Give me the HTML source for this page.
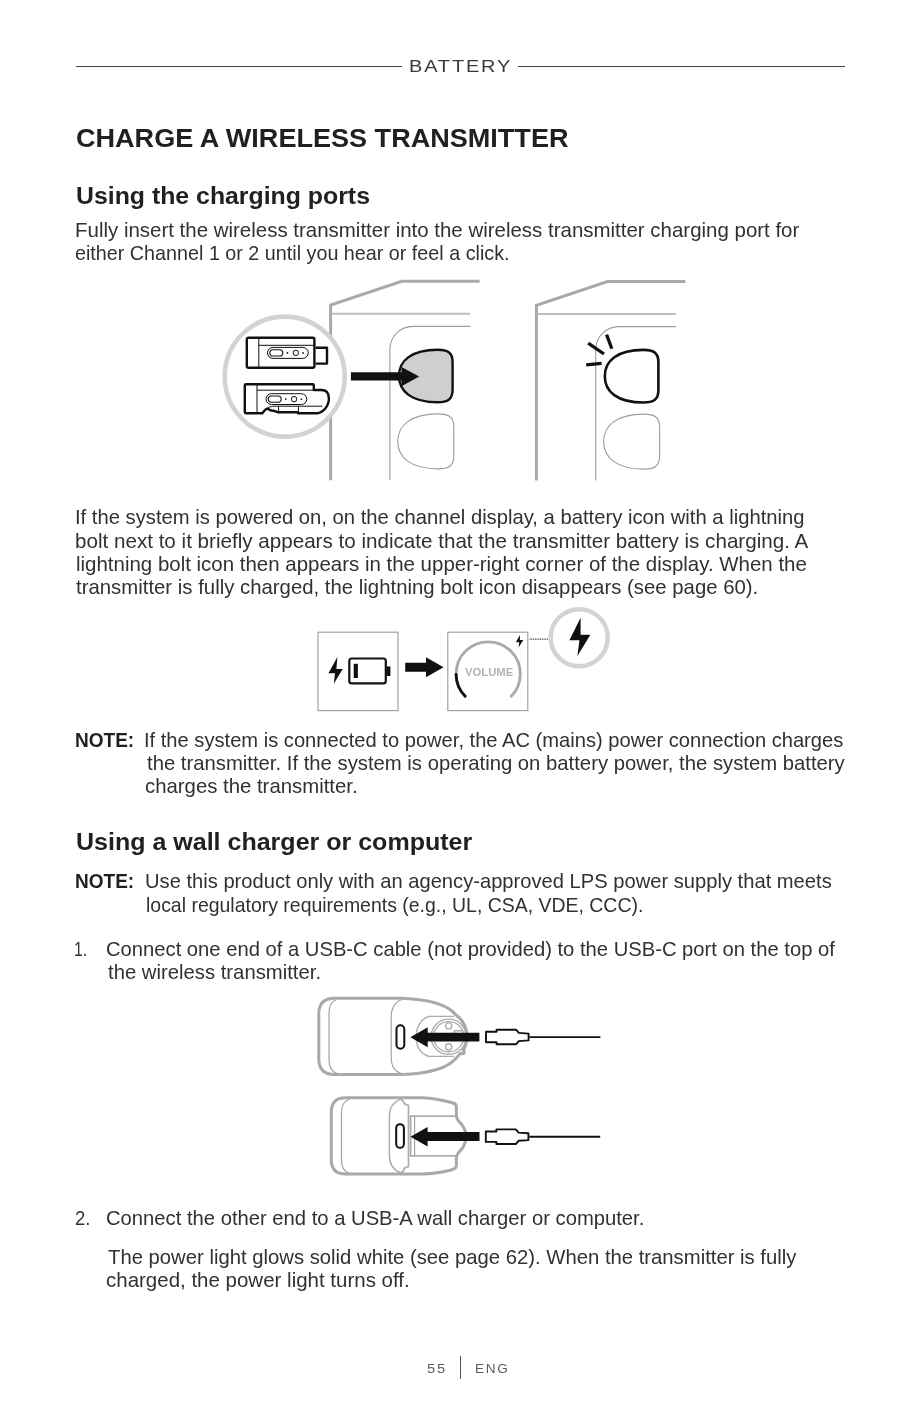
<!DOCTYPE html>
<html lang="en">
<head>
<meta charset="utf-8">
<title>Battery - Charge a wireless transmitter</title>
<style>
html,body{margin:0;padding:0;background:#fff;}
body{width:920px;height:1421px;position:relative;overflow:hidden;font-family:"Liberation Sans",sans-serif;filter:grayscale(1);}
.t{position:absolute;white-space:nowrap;line-height:normal;margin:0;padding:0;transform-origin:0 0;}
.rule{position:absolute;height:1.2px;background:#444;}
#art{position:absolute;left:0;top:0;width:920px;height:1421px;}
</style>
</head>
<body>
<div class="rule" style="left:76px;top:65.5px;width:326px"></div>
<div class="rule" style="left:518px;top:65.5px;width:327px"></div>
<div class="rule" style="left:460px;top:1355.5px;width:1.2px;height:23.5px;background:#555"></div>
<div class="t" id="hdr" style="left:409.23px;top:55.74px;font-size:17.3px;font-weight:400;color:#3a3a3a;letter-spacing:1.6px;transform:scaleX(1.1553)">BATTERY</div>
<h1 class="t" id="h1" style="left:76.46px;top:123.55px;font-size:25.8px;font-weight:700;color:#231f20;transform:scaleX(1.0487)">CHARGE A WIRELESS TRANSMITTER</h1>
<h2 class="t" id="h2a" style="left:76.43px;top:182.69px;font-size:23.0px;font-weight:700;color:#231f20;transform:scaleX(1.0800)">Using the charging ports</h2>
<p class="t" id="p1a" style="left:74.97px;top:218.82px;font-size:20.2px;font-weight:400;color:#333132;transform:scaleX(1.0135)">Fully insert the wireless transmitter into the wireless transmitter charging port for</p>
<p class="t" id="p1b" style="left:75.02px;top:241.92px;font-size:20.2px;font-weight:400;color:#333132;transform:scaleX(0.9778)">either Channel 1 or 2 until you hear or feel a click.</p>
<p class="t" id="p2a" style="left:75.00px;top:506.42px;font-size:20.2px;font-weight:400;color:#333132;transform:scaleX(1.0022)">If the system is powered on, on the channel display, a battery icon with a lightning</p>
<p class="t" id="p2b" style="left:74.97px;top:529.52px;font-size:20.2px;font-weight:400;color:#333132;transform:scaleX(1.0210)">bolt next to it briefly appears to indicate that the transmitter battery is charging. A</p>
<p class="t" id="p2c" style="left:75.98px;top:552.62px;font-size:20.2px;font-weight:400;color:#333132;transform:scaleX(1.0134)">lightning bolt icon then appears in the upper-right corner of the display. When the</p>
<p class="t" id="p2d" style="left:75.50px;top:575.72px;font-size:20.2px;font-weight:400;color:#333132;transform:scaleX(1.0083)">transmitter is fully charged, the lightning bolt icon disappears (see page 60).</p>
<p class="t" id="n1n" style="left:75.07px;top:729.09px;font-size:19.9px;font-weight:700;color:#231f20;transform:scaleX(0.9560)">NOTE:</p>
<p class="t" id="n1a" style="left:144.00px;top:728.82px;font-size:20.2px;font-weight:400;color:#333132;transform:scaleX(0.9971)">If the system is connected to power, the AC (mains) power connection charges</p>
<p class="t" id="n1b" style="left:146.50px;top:751.92px;font-size:20.2px;font-weight:400;color:#333132;transform:scaleX(1.0046)">the transmitter. If the system is operating on battery power, the system battery</p>
<p class="t" id="n1c" style="left:144.99px;top:774.82px;font-size:20.2px;font-weight:400;color:#333132;transform:scaleX(1.0077)">charges the transmitter.</p>
<h2 class="t" id="h2b" style="left:76.42px;top:828.68px;font-size:23.0px;font-weight:700;color:#231f20;transform:scaleX(1.0876)">Using a wall charger or computer</h2>
<p class="t" id="n2n" style="left:75.07px;top:870.39px;font-size:19.9px;font-weight:700;color:#231f20;transform:scaleX(0.9560)">NOTE:</p>
<p class="t" id="n2a" style="left:145.00px;top:870.12px;font-size:20.2px;font-weight:400;color:#333132;transform:scaleX(0.9983)">Use this product only with an agency-approved LPS power supply that meets</p>
<p class="t" id="n2b" style="left:145.56px;top:893.62px;font-size:20.2px;font-weight:400;color:#333132;transform:scaleX(0.9637)">local regulatory requirements (e.g., UL, CSA, VDE, CCC).</p>
<p class="t" id="s1n" style="left:74.00px;top:937.62px;font-size:20.2px;font-weight:400;color:#333132;transform:scaleX(0.7800)">1.</p>
<p class="t" id="s1a" style="left:106.00px;top:937.62px;font-size:20.2px;font-weight:400;color:#333132;transform:scaleX(1.0008)">Connect one end of a USB-C cable (not provided) to the USB-C port on the top of</p>
<p class="t" id="s1b" style="left:107.50px;top:960.72px;font-size:20.2px;font-weight:400;color:#333132;transform:scaleX(1.0048)">the wireless transmitter.</p>
<p class="t" id="s2n" style="left:74.60px;top:1207.22px;font-size:20.2px;font-weight:400;color:#333132;transform:scaleX(0.9165)">2.</p>
<p class="t" id="s2a" style="left:106.00px;top:1207.22px;font-size:20.2px;font-weight:400;color:#333132;transform:scaleX(1.0015)">Connect the other end to a USB-A wall charger or computer.</p>
<p class="t" id="s2b" style="left:107.50px;top:1245.82px;font-size:20.2px;font-weight:400;color:#333132;transform:scaleX(1.0041)">The power light glows solid white (see page 62). When the transmitter is fully</p>
<p class="t" id="s2c" style="left:105.99px;top:1268.92px;font-size:20.2px;font-weight:400;color:#333132;transform:scaleX(1.0148)">charged, the power light turns off.</p>
<div class="t" id="vol" style="left:464.50px;top:666.23px;font-size:10.8px;font-weight:700;color:#b1b3b6;transform:scaleX(1.0460)">VOLUME</div>
<div class="t" id="f55" style="left:426.92px;top:1360.95px;font-size:13.2px;font-weight:400;color:#5c5c5c;letter-spacing:1.6px;transform:scaleX(1.1081)">55</div>
<div class="t" id="feng" style="left:475.44px;top:1360.95px;font-size:13.2px;font-weight:400;color:#5c5c5c;letter-spacing:1.6px;transform:scaleX(1.0293)">ENG</div>
<svg id="art" viewBox="0 0 920 1421" width="920" height="1421">
<!-- ===== Illustration 1: charging ports ===== -->
<defs>
  <path id="port" d="M643.5 349.9 C653.1 349.9 658.4 352.5 658.4 362.1 V390.3 C658.4 399.9 653.1 402.5 643.5 402.5 C617.2 402.5 604.8 391.5 604.8 376.2 C604.8 360.9 617.2 349.9 643.5 349.9 Z"/>
  <g id="speaker" fill="none" stroke="#a7a9ac">
    <path d="M685.4 281.5 H607.6 L536.4 305.4 V480.5" stroke-width="3" stroke-linejoin="miter"/>
    <path d="M538 313.9 H675.8" stroke-width="2" stroke="#bcbec0"/>
    <path d="M676.3 326.6 H618.7 A23 23 0 0 0 595.7 349.6 V480.5" stroke-width="1.1" stroke="#9d9d9d"/>
    <use href="#port" transform="translate(0,65.4) translate(631.6,376.2) scale(1.045) translate(-631.6,-376.2)" stroke-width="1.05" stroke="#9d9d9d"/>
  </g>
</defs>
<use href="#speaker" transform="translate(-205.8,-0.2)"/>
<use href="#speaker"/>
<!-- left: filled port -->
<use href="#port" transform="translate(-205.8,-0.2)" fill="#cfcfcf" stroke="#111" stroke-width="2.4"/>
<!-- right: outlined port + ticks -->
<use href="#port" fill="#fff" stroke="#111" stroke-width="2.6"/>
<g stroke="#111" stroke-width="3.3" fill="none">
  <path d="M606.6 334.6 L611.8 348.8"/>
  <path d="M588.2 343.2 L604 354"/>
  <path d="M586.2 364.9 L601.6 363.4"/>
</g>
<!-- callout circle -->
<circle cx="284.7" cy="376.6" r="60" fill="#fff" stroke="#d1d3d4" stroke-width="4.6"/>
<!-- arrow -->
<path d="M350.9 372.3 H401.5 V366.9 L419.2 376.5 L401.5 386.2 V380.6 H350.9 Z" fill="#111"/>
<!-- transmitter top -->
<g fill="none" stroke="#111" stroke-linejoin="round">
  <rect x="246.8" y="337.8" width="67.6" height="30" rx="1.8" stroke-width="2.4" fill="#fff"/>
  <path d="M315.6 347.7 H327 V363.6 H315.6" stroke-width="2.4"/>
  <path d="M258.8 338 V368" stroke-width="1"/>
  <path d="M258.8 345.3 H314.5" stroke-width="1"/>
  <rect x="267.5" y="347.4" width="40.8" height="11" rx="5.5" stroke-width="1"/>
  <rect x="269.8" y="349.8" width="13" height="6.2" rx="3.1" stroke-width="1.1"/>
  <circle cx="295.8" cy="352.9" r="2.7" stroke-width="1"/>
  <circle cx="287.4" cy="352.9" r="0.9" fill="#111" stroke="none"/>
  <circle cx="303.1" cy="352.9" r="0.9" fill="#111" stroke="none"/>
</g>
<!-- transmitter bottom -->
<g fill="none" stroke="#111" stroke-linejoin="round">
  <path d="M246 384.2 H312.8 Q313.8 384.2 313.8 385.4 V390 H321.5 C327 390 328.9 394 328.9 398.5 C328.9 406 323 413.3 316 413.3 H298 V412.3 H278.2 C275.5 411.6 274 410.7 271.5 410.5 C269.5 410.1 268 408.1 266.3 409 C264.5 410.1 264 411.6 262.2 413.3 H246 Q244.8 413.3 244.8 412.1 V385.4 Q244.8 384.2 246 384.2 Z" stroke-width="2.4" fill="#fff"/>
  <path d="M257 384.5 V413.2" stroke-width="1"/>
  <path d="M257 390.2 H313.8" stroke-width="1"/>
  <rect x="266" y="393.7" width="40.8" height="10.8" rx="5.4" stroke-width="1"/>
  <rect x="268.2" y="396" width="13" height="6.2" rx="3.1" stroke-width="1.1"/>
  <circle cx="294.1" cy="399.1" r="2.7" stroke-width="1"/>
  <circle cx="285.7" cy="399.1" r="0.9" fill="#111" stroke="none"/>
  <circle cx="301.4" cy="399.1" r="0.9" fill="#111" stroke="none"/>
  <path d="M266.6 408.6 C269 406.9 272 406.2 275 406.2 H322.5" stroke-width="1"/>
  <path d="M278.6 406.3 V412.3 M298.4 406.3 V412.6" stroke-width="1"/>
</g>
<!-- ===== Illustration 2: battery / volume display ===== -->
<g fill="none" stroke="#9c9c9c" stroke-width="1.1">
  <rect x="318" y="632.2" width="80" height="78.4"/>
  <rect x="447.8" y="632.2" width="80" height="78.4"/>
</g>
<!-- bolt + battery -->
<path d="M337.4 657 L328.4 673.3 H335 L333.8 683.7 L342.7 669.1 H336.4 Z" fill="#111"/>
<rect x="349.3" y="658.5" width="36.5" height="24.8" rx="2.4" fill="none" stroke="#111" stroke-width="2.2"/>
<rect x="386.6" y="666.4" width="3.8" height="9.6" fill="#111"/>
<rect x="353.7" y="663.8" width="4.2" height="14.2" fill="#111"/>
<!-- arrow -->
<path d="M405.2 662.8 H426 V657.3 L443.6 667.3 L426 677.2 V671.8 H405.2 Z" fill="#111"/>
<!-- arc -->
<path d="M465.2 696.3 A32.1 32.1 0 1 1 511.2 696.3" fill="none" stroke="#a7a9ac" stroke-width="2.8" stroke-linecap="round"/>
<path d="M465.2 696.3 A32.1 32.1 0 0 1 456.1 674.4" fill="none" stroke="#111" stroke-width="2.8" stroke-linecap="round"/>
<!-- small bolt -->
<path d="M519.9 635 L515.9 642.2 H519.2 L518.6 647.5 L523.3 640 H519.9 Z" fill="#111"/>
<!-- dotted leader -->
<path d="M529.6 639.1 H548" stroke="#333" stroke-width="1.1" stroke-dasharray="1 0.75" fill="none"/>
<!-- callout circle with bolt -->
<circle cx="579.2" cy="637.7" r="28.5" fill="#fff" stroke="#d1d3d4" stroke-width="4.4"/>
<path d="M580.6 617.8 L569.4 640.2 H579.4 L577.4 656 L590.4 634.8 H580.6 Z" fill="#111"/>
<!-- ===== Illustration 3: USB-C cable into transmitter ===== -->
<defs>
  <g id="cable">
    <path d="M486 1031.8 H496.6 V1029.7 H516 L518.8 1032.9 L528.6 1033.6 V1040.4 L518.8 1041.1 L516 1044.3 H496.6 V1042.2 H486 Z" fill="#fff" stroke="#111" stroke-width="1.9" stroke-linejoin="round"/>
    <path d="M529.5 1037.1 H600.4" stroke="#111" stroke-width="1.9" fill="none"/>
  </g>
</defs>
<!-- top transmitter (XLR end view) -->
<g fill="none" stroke="#9d9d9d" stroke-width="1.1">
  <path d="M336.8 999.6 C331 1001.5 329 1006 329 1013.5 V1059.5 C329 1067 331 1071.5 336.8 1073.3"/>
  <path d="M402.5 999.2 C394 1002 391.2 1008 391.2 1017.4 V1056.4 C391.2 1066 394 1071.5 402.5 1074"/>
  <g stroke="#adadad" stroke-width="1.4">
    <path d="M454 1016.4 H428.7 C421 1019.2 416.2 1027 416.2 1036.7 C416.2 1046.4 421 1053.6 428.7 1056.4 H454"/>
    <circle cx="448.7" cy="1036.7" r="17.6"/>
    <circle cx="448.7" cy="1036.7" r="15.1"/>
    <circle cx="448.7" cy="1026" r="3.1"/>
    <circle cx="448.7" cy="1046.9" r="3.1"/>
    <path d="M454.3 1033 V1030.7 H462.8"/>
  </g>
</g>
<path d="M456 1015 C449 1006 433 999.6 402 998.3 H334.5 Q318.8 998.3 318.8 1014 V1058.8 Q318.8 1074.5 334.5 1074.5 H402 C433 1073.3 449 1066.5 456 1058.2 C457.6 1056.6 459.2 1055 460.4 1053.4 H464 V1050.3 L463.3 1050 C465.5 1046.5 466.8 1042 466.8 1036.7 C466.8 1027.5 462.4 1019.5 456 1015 Z" fill="none" stroke="#a7a9ac" stroke-width="3" stroke-linejoin="round"/>
<rect x="396.5" y="1025.3" width="7.8" height="23.4" rx="3.9" fill="#fff" stroke="#111" stroke-width="2"/>
<path d="M410.4 1037.2 L427.7 1027.2 V1032.7 H479.4 V1041.6 H427.7 V1047.2 Z" fill="#111"/>
<use href="#cable"/>
<!-- bottom transmitter (clip view) -->
<g fill="none" stroke="#9d9d9d" stroke-width="1.1">
  <path d="M349.4 1099.2 C343.5 1101 341.5 1105.5 341.5 1112.5 V1160.3 C341.5 1167.5 343.5 1171.5 349.4 1173.3"/>
  <path d="M401.2 1099.2 C393 1102 389.4 1108 389.4 1116.5 V1155.4 C389.4 1164 393 1170 401.2 1173" stroke="#a7a9ac" stroke-width="1.4"/>
  <path d="M401.2 1099.2 C403 1100.5 404.2 1101.8 404.2 1103.8 L408.5 1105.4 V1166.6 L404.2 1168.2 C404.2 1170 403 1171.8 401.2 1173" stroke="#adadad" stroke-width="1.7"/>
  <path d="M456.4 1116.1 H410.6 V1155.8 H456.4" stroke="#adadad" stroke-width="1.8"/>
  <path d="M414.6 1116.1 V1155.8"/>
</g>
<path d="M345.6 1097.7 H421.5 C433 1098.2 445 1100.5 453 1103 Q456.4 1104 456.4 1107 V1116.3 C456.8 1121 461 1122.5 463.2 1126.5 C465 1129.5 466.3 1132.5 466.3 1136.7 C466.3 1141 465 1144 463.2 1147 C461 1151 456.8 1152.5 456.4 1157.2 V1165 Q456.4 1168.6 452 1169.8 C444 1172 433 1173.8 421.5 1174 H345.6 Q331.3 1174 331.3 1159.7 V1112 Q331.3 1097.7 345.6 1097.7 Z" fill="none" stroke="#a7a9ac" stroke-width="3"/>
<rect x="396.2" y="1124.2" width="7.7" height="23.6" rx="3.85" fill="#fff" stroke="#111" stroke-width="2"/>
<path d="M410.5 1136.7 L427.6 1126.9 V1132.1 H479.5 V1141.1 H427.6 V1146.6 Z" fill="#111"/>
<use href="#cable" transform="translate(-0.2,99.7)"/>

</svg>
</body>
</html>
